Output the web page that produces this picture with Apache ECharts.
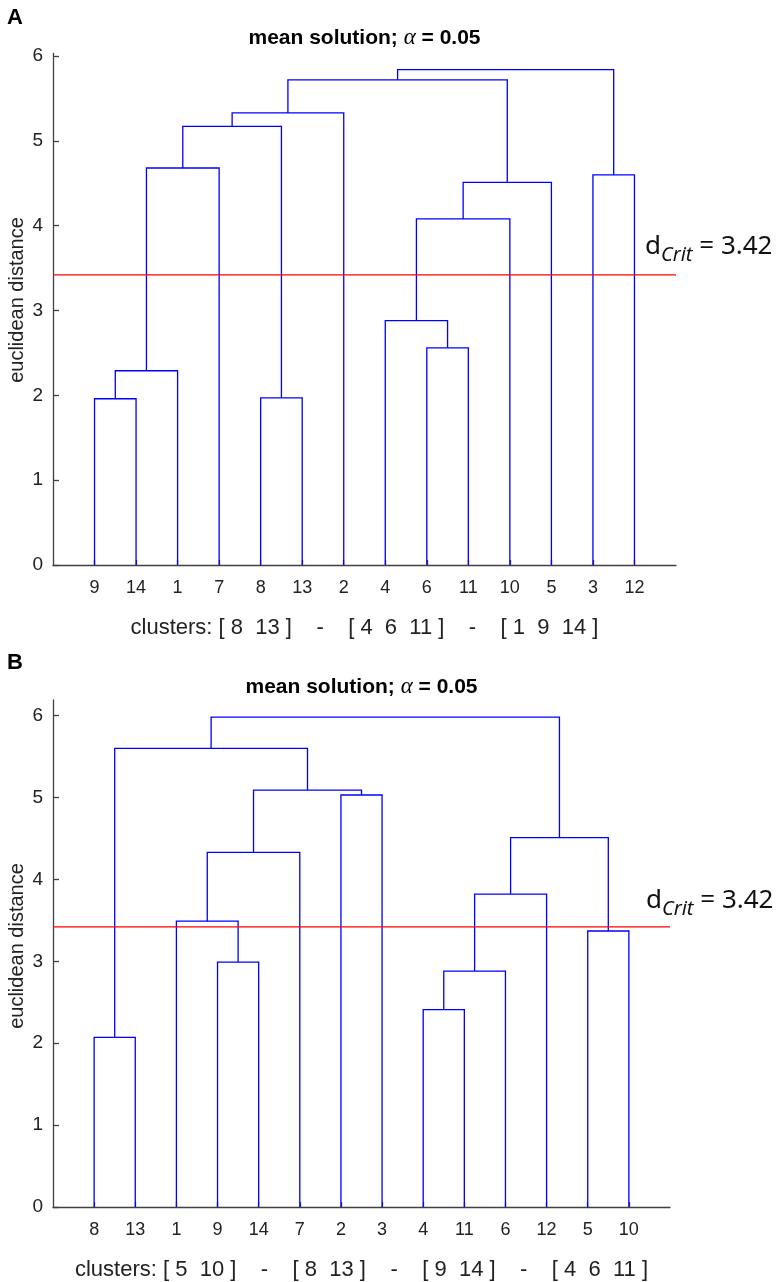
<!DOCTYPE html>
<html>
<head>
<meta charset="utf-8">
<script src="https://cdn.jsdelivr.net/npm/echarts@6/dist/echarts.min.js"></script>
<style>
  html, body { margin: 0; padding: 0; background: #fff; }
  #chart { width: 780px; height: 1282px; }
</style>
</head>
<body>
<div id="chart"></div>
<script>
// leaf order along the x axis (object numbers)
var leavesA = [9, 14, 1, 7, 8, 13, 2, 4, 6, 11, 10, 5, 3, 12];
var leavesB = [8, 13, 1, 9, 14, 7, 2, 3, 4, 11, 6, 12, 5, 10];

// linkage rows: node ids 1-14 are objects, 15+ are earlier links (in row order)
var linkA1 = [9, 8, 15, 6, 4, 19, 20, 3, 17, 23, 24, 25, 26];
var linkA2 = [14, 13, 1, 11, 18, 10, 5, 12, 7, 16, 2, 21, 22];
var heightA = [1.96, 1.97, 2.29, 2.56, 2.88, 4.08, 4.51, 4.60, 4.68, 5.17, 5.33, 5.72, 5.84];

var linkB1 = [8, 4, 16, 9, 5, 1, 17, 20, 21, 2, 22, 15, 26];
var linkB2 = [13, 11, 6, 14, 10, 18, 12, 7, 19, 3, 24, 25, 23];
var heightB = [2.07, 2.41, 2.88, 2.99, 3.37, 3.49, 3.82, 4.33, 4.51, 5.03, 5.09, 5.60, 5.98];

var dCrit = 3.42;
var yTicks = [0, 1, 2, 3, 4, 5, 6];
var leafTicks = [1, 2, 3, 4, 5, 6, 7, 8, 9, 10, 11, 12, 13, 14];
var clustersA = 'clusters: [ 8  13 ]    -    [ 4  6  11 ]    -    [ 1  9  14 ]';
var clustersB = 'clusters: [ 5  10 ]    -    [ 8  13 ]    -    [ 9  14 ]    -    [ 4  6  11 ]';

var BLUE = '#0000ff';
var AXIS = '#404040';
var FONT = 'Liberation Sans, Arial, sans-serif';

// turn linkage rows into [x1, h1, x2, h2, h] for each U-shaped link
function buildLinks(leaves, l1, l2, h) {
    var pos = {}, ht = {};
    leaves.forEach(function (id, i) { pos[id] = i + 1; ht[id] = 0; });
    var rows = [];
    for (var k = 0; k < l1.length; k++) {
        var a = l1[k], b = l2[k], id = leaves.length + 1 + k;
        rows.push([pos[a], ht[a], pos[b], ht[b], h[k]]);
        pos[id] = (pos[a] + pos[b]) / 2;
        ht[id] = h[k];
    }
    return rows;
}

function renderLink(params, api) {
    var p1 = api.coord([api.value(0), api.value(1)]);
    var p2 = api.coord([api.value(0), api.value(4)]);
    var p3 = api.coord([api.value(2), api.value(4)]);
    var p4 = api.coord([api.value(2), api.value(3)]);
    return {
        type: 'polyline',
        shape: { points: [p1, p2, p3, p4] },
        style: { stroke: BLUE, lineWidth: 1.3, fill: null }
    };
}

function xAxisOf(idx, leaves, name) {
    return {
        type: 'value', gridIndex: idx, min: 0, max: 15,
        name: name, nameLocation: 'middle', nameGap: 52,
        nameTextStyle: { fontFamily: FONT, fontSize: 22, color: '#222' },
        axisLine: { lineStyle: { color: AXIS, width: 1.3 } },
        axisTick: { inside: true, length: 5, customValues: leafTicks, lineStyle: { color: AXIS, width: 1.3 } },
        axisLabel: {
            customValues: leafTicks, margin: 14,
            fontFamily: FONT, fontSize: 18, color: '#222',
            formatter: function (v) { return String(leaves[v - 1]); }
        },
        splitLine: { show: false }
    };
}

function yAxisOf(idx, max) {
    return {
        type: 'value', gridIndex: idx, min: 0, max: max,
        axisLine: { show: true, lineStyle: { color: AXIS, width: 1.3 } },
        axisTick: { show: true, inside: true, length: 6, customValues: yTicks, lineStyle: { color: AXIS, width: 1.3 } },
        axisLabel: { customValues: yTicks, margin: 10, fontFamily: FONT, fontSize: 19, color: '#222' },
        splitLine: { show: false }
    };
}

function titleText(x, y) {
    return {
        type: 'text', x: x, y: y,
        style: {
            text: '{b|mean solution; }{g|α}{b| = 0.05}',
            align: 'center', verticalAlign: 'middle',
            rich: {
                b: { fontFamily: FONT, fontSize: 21, fontWeight: 'bold', fill: '#000' },
                g: { fontFamily: 'Liberation Serif, DejaVu Serif, serif', fontSize: 23, fontStyle: 'italic', fill: '#000' }
            }
        }
    };
}

function critText(x, y) {
    return {
        type: 'text', x: x, y: y,
        style: {
            text: '{d|d}{s|Crit}{e| = ' + dCrit.toFixed(2) + '}',
            align: 'left', verticalAlign: 'middle',
            rich: {
                d: { fontFamily: 'Noto Sans', fontSize: 26, lineHeight: 37, fill: '#111' },
                s: { fontFamily: 'Noto Sans', fontSize: 20, fontStyle: 'italic', lineHeight: 20, verticalAlign: 'bottom', fill: '#111' },
                e: { fontFamily: 'Noto Sans', fontSize: 26, lineHeight: 37, fill: '#111' }
            }
        }
    };
}

function yName(x, y) {
    return {
        type: 'text', x: x, y: y, rotation: Math.PI / 2,
        style: {
            text: 'euclidean distance', align: 'center', verticalAlign: 'middle',
            fontFamily: FONT, fontSize: 20, fill: '#222'
        }
    };
}

function panelLetter(t, x, y) {
    return {
        type: 'text', x: x, y: y,
        style: { text: t, fontFamily: FONT, fontSize: 22, fontWeight: 'bold', fill: '#000', verticalAlign: 'middle' }
    };
}

var option = {
    animation: false,
    backgroundColor: '#fff',
    grid: [
        { left: 53, top: 53.5, right: 104, height: 511.5 },
        { left: 53, top: 700, right: 110, height: 510.7 }
    ],
    xAxis: [xAxisOf(0, leavesA, clustersA), xAxisOf(1, leavesB, clustersB)],
    yAxis: [yAxisOf(0, 6.03), yAxisOf(1, 6.19)],
    series: [
        {
            type: 'custom', name: 'A', xAxisIndex: 0, yAxisIndex: 0,
            renderItem: renderLink, encode: { x: [0, 2], y: [1, 3, 4] },
            data: buildLinks(leavesA, linkA1, linkA2, heightA)
        },
        {
            type: 'custom', name: 'B', xAxisIndex: 1, yAxisIndex: 1,
            renderItem: renderLink, encode: { x: [0, 2], y: [1, 3, 4] },
            data: buildLinks(leavesB, linkB1, linkB2, heightB)
        },
        {
            type: 'line', xAxisIndex: 0, yAxisIndex: 0, showSymbol: false, silent: true,
            lineStyle: { color: '#ff0000', width: 1.3 },
            data: [[0, dCrit], [15, dCrit]]
        },
        {
            type: 'line', xAxisIndex: 1, yAxisIndex: 1, showSymbol: false, silent: true,
            lineStyle: { color: '#ff0000', width: 1.3 },
            data: [[0, dCrit], [15, dCrit]]
        }
    ],
    graphic: [
        panelLetter('A', 7, 18),
        panelLetter('B', 7, 663),
        titleText(364.5, 38),
        titleText(361.5, 687),
        critText(645, 247),
        critText(646, 901),
        yName(17, 300),
        yName(17, 946)
    ]
};

var myChart = echarts.init(document.getElementById('chart'));
myChart.setOption(option);
</script>
</body>
</html>
